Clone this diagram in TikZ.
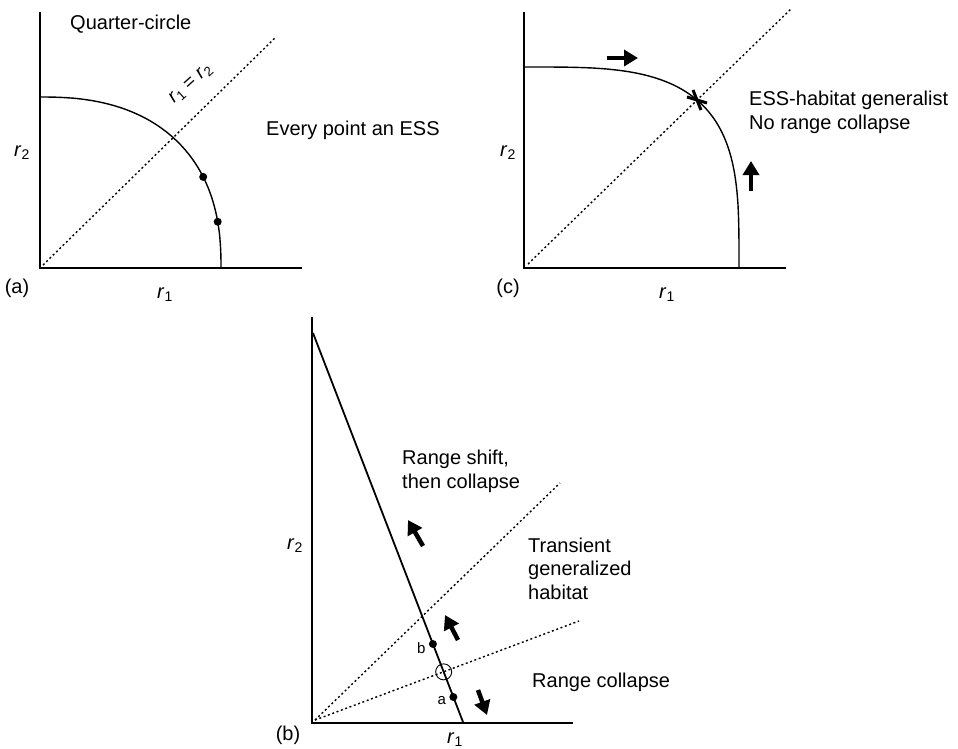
\documentclass[tikz,border=0pt]{standalone}
\usepackage{fontspec}
\setmainfont{Liberation Sans}
\usetikzlibrary{arrows.meta,positioning}

\begin{document}
\begin{tikzpicture}[x=1pt,y=-1pt,
  axis/.style={line width=2.6pt,line join=miter},
  curve/.style={line width=1.4pt},
  diag/.style={line width=1.4pt,dash pattern=on 2pt off 2.6pt},
  dot/.style={circle,fill,inner sep=0pt,minimum size=8pt},
  blk/.style={line width=4.5pt,-{Triangle[length=14pt,width=16pt]}},
  lbl/.style={inner sep=0pt,font=\fontsize{20}{23.5}\selectfont,align=left,anchor=base west},
  tag/.style={inner sep=0pt,font=\fontsize{20}{23.5}\selectfont},
  ab/.style={inner sep=0pt,font=\fontsize{15}{18}\selectfont}]
\useasboundingbox (0,0) rectangle (958,748);
% (a)
\coordinate (oa) at (40,268);
\draw[axis] (40,12) -- (oa) -- (302,268);
\draw[diag] (43,265) -- (276,37);
\draw[curve] (221,268) -- plot[domain=0.5:89.5,samples=90] ({40+181*pow(cos(\x),0.833)},{268-171*pow(sin(\x),0.833)}) -- (40,97);
\node[dot] (a1) at ({40+181*pow(cos(28),0.833)},{268-171*pow(sin(28),0.833)}) {};
\node[dot] (a2) at ({40+181*pow(cos(12),0.833)},{268-171*pow(sin(12),0.833)}) {};
\node[tag,rotate=42,font=\fontsize{19}{22}\selectfont] (eq) at (191,84) {\textit{r}\textsubscript{1} = \textit{r}\textsubscript{2}};
\node[lbl] (qc) at (70,29) {Quarter-circle};
\node[lbl] (every) at (266,135) {Every point an ESS};
\node[tag] (ya) at (22,153) {\textit{r}\textsubscript{2}};
\node[tag] (xa) at (165,295) {\textit{r}\textsubscript{1}};
\node[tag] (pa) at (17,288) {(a)};
% (c)
\coordinate (oc) at (524,268);
\draw[axis] (524,12) -- (oc) -- (786,268);
\draw[diag] (528,264) -- (792,8);
\draw[curve] (739,268) -- plot[domain=0.2:89.8,samples=120] ({524+215*pow(cos(\x),0.571)},{268-201*pow(sin(\x),0.571)}) -- (524,67);
\coordinate (ess) at (697,100);
\draw[line width=3pt] ([shift={(-10,-3)}]ess) -- ([shift={(10,3)}]ess) ([shift={(-4,-10)}]ess) -- ([shift={(4,10)}]ess);
\draw[blk] (607,58) -- (638,58);
\draw[blk] (751,191) -- (751,161);
\node[lbl] (gen) at (749,129) {ESS-habitat generalist\\No range collapse};
\node[tag] (yc) at (508,153) {\textit{r}\textsubscript{2}};
\node[tag] (xc) at (667,295) {\textit{r}\textsubscript{1}};
\node[tag] (pc) at (508,288) {(c)};
% (b)
\coordinate (ob) at (312,723);
\coordinate (top) at (313,333);
\coordinate (foot) at (463,722);
\coordinate (hi) at (560,483);
\coordinate (lo) at (579,621);
\draw[axis] (312,317) -- (ob) -- (573,723);
\draw[diag] (315,720) -- (hi);
\draw[diag] (315,720) -- (lo);
\draw[line width=1.8pt] (top) -- (foot);
\node[draw,circle,minimum size=16pt,inner sep=0pt,line width=0.9pt] (cx) at (intersection of 315,720--lo and top--foot) {};
\path (top) -- (foot) node[dot,pos=0.7995] (db) {} node[dot,pos=0.9357] (da) {};
\node[ab,left=3pt of db,yshift=-4pt] (lb) {b};
\node[ab,left=3pt of da,yshift=-4pt] (la) {a};
\draw[blk] (423,546) -- (408,520);
\draw[blk] (458,640) -- (445,615);
\draw[blk] (478,690) -- (487,715);
\node[lbl] (shift) at (402,488) {Range shift,\\then collapse};
\node[lbl] (trans) at (528,599) {Transient\\generalized\\habitat};
\node[lbl] (rc) at (532,687) {Range collapse};
\node[tag] (yb) at (295,546) {\textit{r}\textsubscript{2}};
\node[tag] (xb) at (455,740) {\textit{r}\textsubscript{1}};
\node[tag] (pb) at (288,735) {(b)};
\end{tikzpicture}
\end{document}
